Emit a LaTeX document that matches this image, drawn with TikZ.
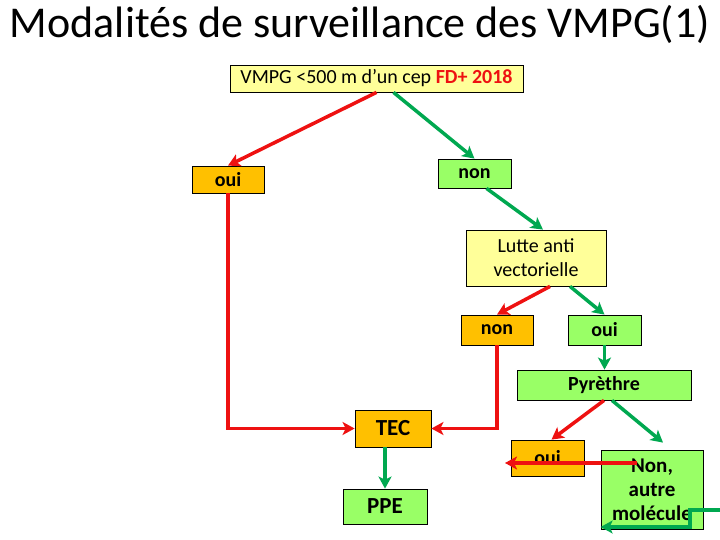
\documentclass[tikz,border=0pt]{standalone}
\usepackage{fontspec}
\setmainfont{Carlito}
\usetikzlibrary{arrows.meta}

\definecolor{boxyel}{HTML}{FFFF99}
\definecolor{boxora}{HTML}{FFC000}
\definecolor{boxgrn}{HTML}{99FF66}
\definecolor{arred}{HTML}{EE1111}
\definecolor{argrn}{HTML}{00A850}

\begin{document}
\begin{tikzpicture}[x=1pt, y=-1pt,
  every node/.style={font=\fontsize{20}{24}\selectfont},
  box/.style={draw, line width=0.8pt, inner sep=0pt, align=center},
  yel/.style={box, fill=boxyel},
  ora/.style={box, fill=boxora, font=\fontsize{20}{24}\selectfont\bfseries},
  grn/.style={box, fill=boxgrn, font=\fontsize{20}{24}\selectfont\bfseries},
  big/.style={font=\fontsize{23}{26}\selectfont\bfseries},
  no/.style={-{Stealth[length=12pt, width=13pt, inset=3pt]}, line width=3.5pt, arred},
  yes/.style={-{Stealth[length=12pt, width=13pt, inset=3pt]}, line width=3.5pt, argrn}]
\useasboundingbox (0,0) rectangle (720,540);
\node[anchor=base, font=\fontsize{44}{48}\selectfont] (title) at (360,38) {Modalités de surveillance des VMPG(1)};
% questions
\node[yel, minimum width=293pt, minimum height=27pt] (vmpg) at (376.5,78.5) {VMPG <500 m d’un cep \textbf{\textcolor{arred}{FD+ 2018}}};
\node[ora, minimum width=72pt, minimum height=27pt] (ouiA) at (228,179.5) {oui};
\node[grn, minimum width=73pt, minimum height=29pt] (nonA) at (474.5,173.5) {non};
\node[yel, minimum width=140pt, minimum height=56pt] (lav) at (536,258) {Lutte anti\\vectorielle};
\node[ora, minimum width=72pt, minimum height=30pt] (nonB) at (497,330) {non};
\node[grn, minimum width=73pt, minimum height=30pt] (ouiB) at (604.5,330) {oui};
\node[grn, minimum width=174pt, minimum height=30pt] (pyr) at (604,385) {Pyrèthre};
% actions
\node[ora, big, minimum width=76pt, minimum height=37pt] (tec) at (393,428.5) {TEC};
\node[grn, big, minimum width=84pt, minimum height=35pt] (ppe) at (385,506.5) {PPE};
\node[ora, minimum width=73pt, minimum height=36pt] (ouiC) at (547.5,458) {oui};
\node[grn, minimum width=102pt, minimum height=79pt, font=\fontsize{21}{24}\selectfont\bfseries] (nonC) at (652,489.5) {Non,\\autre\\molécule};
\coordinate (rA) at (637,463);
\coordinate (rB) at (505,463);
\coordinate (gA) at (722,510);
\coordinate (gB) at (690,527);
% connectors
\draw[no] (vmpg.south) -- (ouiA.north);
\draw[yes] ([xshift=17pt]vmpg.south) -- (nonA.north);
\draw[yes] ([xshift=12pt]nonA.south) -- ([xshift=7pt]lav.north);
\draw[no] ([xshift=14pt]lav.south) -- (nonB.north);
\draw[yes] ([xshift=34pt]lav.south) -- (ouiB.north);
\draw[yes] (ouiB.south) -- (ouiB.south |- pyr.north);
\draw[no] (ouiA.south) |- (tec.west);
\draw[no] (nonB.south) |- (tec.east);
\draw[yes] (ppe.north |- tec.south) -- (ppe.north);
\draw[no] (pyr.south) -- ([xshift=4pt]ouiC.north);
\draw[yes] ([xshift=8pt]pyr.south) -- ([xshift=11pt, yshift=7pt]nonC.north);
\draw[no] (rA) -- (rB);
\draw[yes] (gA) -| (gB) -- (gB -| nonC.west);
\end{tikzpicture}
\end{document}
